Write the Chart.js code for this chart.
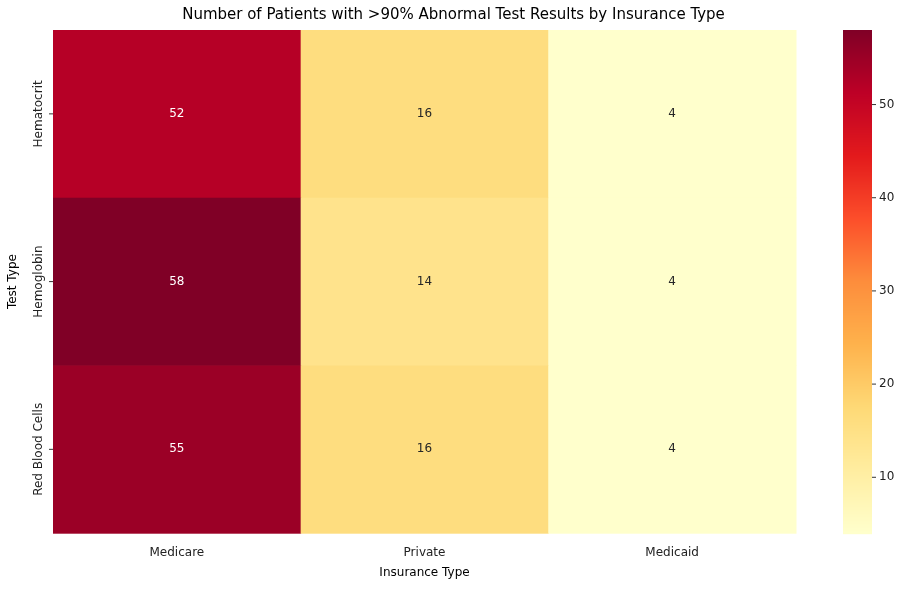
<!DOCTYPE html>
<html>
<head>
<meta charset="utf-8">
<script src="https://cdn.jsdelivr.net/npm/chart.js@4/dist/chart.umd.min.js"></script>
<style>
  html, body { margin: 0; padding: 0; background: #fff; }
  #wrap { width: 903px; height: 590px; }
</style>
</head>
<body>
<div id="wrap"><canvas id="heat"></canvas></div>
<script>
// Dados do heatmap
const insuranceTypes = ['Medicare', 'Private', 'Medicaid'];
const testTypes = ['Hematocrit', 'Hemoglobin', 'Red Blood Cells'];
const hematocrit = [52, 16, 4];
const hemoglobin = [58, 14, 4];
const redBloodCells = [55, 16, 4];
const colorbarTicks = [10, 20, 30, 40, 50];
const rows = [hematocrit, hemoglobin, redBloodCells];
const vmin = 4, vmax = 58;

// YlOrRd
const stops = ['#ffffcc','#ffeda0','#fed976','#feb24c','#fd8d3c','#fc4e2a','#e31a1c','#bd0026','#800026'];
function hex(h) { return [1, 3, 5].map(i => parseInt(h.substr(i, 2), 16)); }
function colorFor(t) {
  t = Math.max(0, Math.min(1, t));
  const p = t * (stops.length - 1), i = Math.min(Math.floor(p), stops.length - 2), f = p - i;
  const a = hex(stops[i]), b = hex(stops[i + 1]);
  return 'rgb(' + a.map((v, k) => Math.round(v + (b[k] - v) * f)).join(',') + ')';
}

const font = { family: 'DejaVu Sans', size: 12 };
const heatPlugin = {
  id: 'heat',
  beforeDatasetsDraw(chart) {
    const { ctx, chartArea, scales: { x, y, cb } } = chart;
    const cw = x.getPixelForValue(1) - x.getPixelForValue(0);
    const ch = y.getPixelForValue(1) - y.getPixelForValue(0);
    ctx.save();
    ctx.font = '12px DejaVu Sans';
    rows.forEach((row, r) => row.forEach((v, c) => {
      const cx = x.getPixelForValue(c), cy = y.getPixelForValue(r);
      const t = (v - vmin) / (vmax - vmin);
      ctx.fillStyle = colorFor(t);
      ctx.fillRect(cx - cw / 2, cy - ch / 2, cw + 0.5, ch + 0.5);
      ctx.fillStyle = t > 0.5 ? '#fff' : '#262626';
      ctx.textAlign = 'center'; ctx.textBaseline = 'middle';
      ctx.fillText(String(v), cx, cy);
    }));
    // rótulos do eixo Y (rotacionados)
    ctx.strokeStyle = '#333'; ctx.lineWidth = 1;
    testTypes.forEach((lab, r) => {
      const py = y.getPixelForValue(r);
      ctx.beginPath(); ctx.moveTo(chartArea.left - 4, py); ctx.lineTo(chartArea.left, py); ctx.stroke();
      ctx.save();
      ctx.translate(chartArea.left - 14, py);
      ctx.rotate(-Math.PI / 2);
      ctx.fillStyle = '#222'; ctx.textAlign = 'center'; ctx.textBaseline = 'middle';
      ctx.fillText(lab, 0, 0);
      ctx.restore();
    });
    // barra de cores
    const bx = cb.left + 47, bw = 29;
    for (let py = Math.floor(cb.top); py < cb.bottom; py++) {
      ctx.fillStyle = colorFor((cb.getValueForPixel(py + 0.5) - vmin) / (vmax - vmin));
      ctx.fillRect(bx, py, bw, 1.2);
    }
    ctx.textAlign = 'left'; ctx.textBaseline = 'middle'; ctx.fillStyle = '#222';
    colorbarTicks.forEach(v => {
      const py = cb.getPixelForValue(v);
      ctx.beginPath(); ctx.moveTo(bx + bw, py); ctx.lineTo(bx + bw + 4, py); ctx.stroke();
      ctx.fillText(String(v), bx + bw + 7, py);
    });
    ctx.restore();
  }
};

new Chart(document.getElementById('heat'), {
  type: 'scatter',
  data: { datasets: [{ data: [], pointRadius: 0 }] },
  plugins: [heatPlugin],
  options: {
    responsive: true,
    maintainAspectRatio: false,
    animation: false,
    layout: { padding: { left: 4, right: 0, top: 6, bottom: 8 } },
    plugins: {
      legend: { display: false },
      tooltip: { enabled: false },
      title: {
        display: true,
        text: 'Number of Patients with >90% Abnormal Test Results by Insurance Type',
        color: '#000', font: { family: 'DejaVu Sans', size: 15, weight: 'normal' },
        padding: { top: 0, bottom: 6 }
      }
    },
    scales: {
      x: {
        type: 'linear', min: -0.5, max: 2.5,
        afterBuildTicks: s => { s.ticks = insuranceTypes.map((_, i) => ({ value: i })); },
        ticks: { callback: v => insuranceTypes[v], color: '#222', font, padding: 4 },
        grid: { display: false },
        border: { display: false },
        title: { display: true, text: 'Insurance Type', color: '#000', font, padding: 2 }
      },
      y: {
        type: 'linear', min: -0.5, max: 2.5, reverse: true,
        ticks: { display: false },
        afterFit: s => { s.width = 49; },
        grid: { display: false },
        border: { display: false },
        title: { display: true, text: 'Test Type', color: '#000', font, padding: 2 }
      },
      cb: {
        type: 'linear', position: 'right', min: vmin, max: vmax,
        ticks: { display: false },
        afterFit: s => { s.width = 107; },
        grid: { display: false },
        border: { display: false }
      }
    }
  }
});
</script>
</body>
</html>
